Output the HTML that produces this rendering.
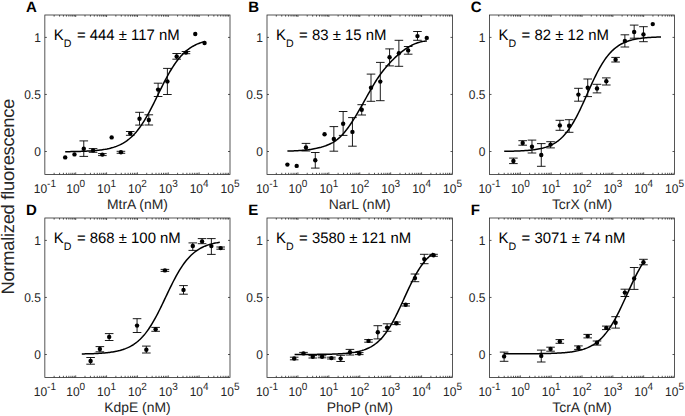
<!DOCTYPE html>
<html><head><meta charset="utf-8"><style>
html,body{margin:0;padding:0;background:#fff;width:685px;height:416px;overflow:hidden}
svg{display:block}
text{font-family:"Liberation Sans",sans-serif;fill:#000;text-rendering:geometricPrecision}
.tl{font-size:12px;fill:#262626}
.sup{font-size:10px}
.xl{font-size:13.9px;fill:#262626}
.pl{font-size:15px;font-weight:bold}
.kd{font-size:14.9px}
.sub{font-size:10.6px}
.yl{font-size:18px;fill:#262626}
</style></head><body>
<svg width="685" height="416" viewBox="0 0 685 416">
<rect width="685" height="416" fill="#fff"/>
<path d="M54.14 174.4v-1.6M54.14 15v1.6M59.57 174.4v-1.6M59.57 15v1.6M63.43 174.4v-1.6M63.43 15v1.6M66.42 174.4v-1.6M66.42 15v1.6M68.86 174.4v-1.6M68.86 15v1.6M70.93 174.4v-1.6M70.93 15v1.6M72.72 174.4v-1.6M72.72 15v1.6M74.3 174.4v-1.6M74.3 15v1.6M75.71 174.4v-2M75.71 15v2M85 174.4v-1.6M85 15v1.6M90.43 174.4v-1.6M90.43 15v1.6M94.29 174.4v-1.6M94.29 15v1.6M97.28 174.4v-1.6M97.28 15v1.6M99.72 174.4v-1.6M99.72 15v1.6M101.79 174.4v-1.6M101.79 15v1.6M103.58 174.4v-1.6M103.58 15v1.6M105.15 174.4v-1.6M105.15 15v1.6M106.57 174.4v-2M106.57 15v2M115.86 174.4v-1.6M115.86 15v1.6M121.29 174.4v-1.6M121.29 15v1.6M125.15 174.4v-1.6M125.15 15v1.6M128.14 174.4v-1.6M128.14 15v1.6M130.58 174.4v-1.6M130.58 15v1.6M132.64 174.4v-1.6M132.64 15v1.6M134.43 174.4v-1.6M134.43 15v1.6M136.01 174.4v-1.6M136.01 15v1.6M137.43 174.4v-2M137.43 15v2M146.71 174.4v-1.6M146.71 15v1.6M152.15 174.4v-1.6M152.15 15v1.6M156 174.4v-1.6M156 15v1.6M158.99 174.4v-1.6M158.99 15v1.6M161.44 174.4v-1.6M161.44 15v1.6M163.5 174.4v-1.6M163.5 15v1.6M165.29 174.4v-1.6M165.29 15v1.6M166.87 174.4v-1.6M166.87 15v1.6M168.28 174.4v-2M168.28 15v2M177.57 174.4v-1.6M177.57 15v1.6M183.01 174.4v-1.6M183.01 15v1.6M186.86 174.4v-1.6M186.86 15v1.6M189.85 174.4v-1.6M189.85 15v1.6M192.3 174.4v-1.6M192.3 15v1.6M194.36 174.4v-1.6M194.36 15v1.6M196.15 174.4v-1.6M196.15 15v1.6M197.73 174.4v-1.6M197.73 15v1.6M199.14 174.4v-2M199.14 15v2M208.43 174.4v-1.6M208.43 15v1.6M213.86 174.4v-1.6M213.86 15v1.6M217.72 174.4v-1.6M217.72 15v1.6M220.71 174.4v-1.6M220.71 15v1.6M223.15 174.4v-1.6M223.15 15v1.6M225.22 174.4v-1.6M225.22 15v1.6M227.01 174.4v-1.6M227.01 15v1.6M228.59 174.4v-1.6M228.59 15v1.6M44.85 151.5h2M230 151.5h-2M44.85 94.45h2M230 94.45h-2M44.85 37.4h2M230 37.4h-2" stroke="#262626" stroke-width="0.78" fill="none"/>
<rect x="44.85" y="15" width="185.15" height="159.4" fill="none" stroke="#262626" stroke-width="0.78"/>
<text transform="translate(44.85 193.15) scale(1 1.05)" text-anchor="middle" class="tl">10<tspan class="sup" dy="-5.4">-1</tspan></text>
<text transform="translate(75.71 193.15) scale(1 1.05)" text-anchor="middle" class="tl">10<tspan class="sup" dy="-5.4">0</tspan></text>
<text transform="translate(106.57 193.15) scale(1 1.05)" text-anchor="middle" class="tl">10<tspan class="sup" dy="-5.4">1</tspan></text>
<text transform="translate(137.43 193.15) scale(1 1.05)" text-anchor="middle" class="tl">10<tspan class="sup" dy="-5.4">2</tspan></text>
<text transform="translate(168.28 193.15) scale(1 1.05)" text-anchor="middle" class="tl">10<tspan class="sup" dy="-5.4">3</tspan></text>
<text transform="translate(199.14 193.15) scale(1 1.05)" text-anchor="middle" class="tl">10<tspan class="sup" dy="-5.4">4</tspan></text>
<text transform="translate(230 193.15) scale(1 1.05)" text-anchor="middle" class="tl">10<tspan class="sup" dy="-5.4">5</tspan></text>
<text transform="translate(40.85 155.9) scale(1 1.05)" text-anchor="end" class="tl">0</text>
<text transform="translate(40.85 98.85) scale(1 1.05)" text-anchor="end" class="tl">0.5</text>
<text transform="translate(40.85 41.8) scale(1 1.05)" text-anchor="end" class="tl">1</text>
<text transform="translate(137.43 208.5) scale(1 1.0)" text-anchor="middle" class="xl">MtrA (nM)</text>
<text transform="translate(26.1 11.5) scale(1 1.0)" class="pl">A</text>
<text transform="translate(53.85 39.5) scale(1 1.02)" class="kd">K</text>
<text transform="translate(63.85 46.5) scale(1 1.02)" class="sub">D</text>
<text transform="translate(76.95 39.5) scale(1 1.02)" class="kd">= 444 ± 117 nM</text>
<polyline points="65.2,151.69 66.36,151.68 67.52,151.66 68.69,151.65 69.85,151.63 71.01,151.62 72.17,151.6 73.33,151.57 74.49,151.55 75.66,151.53 76.82,151.5 77.98,151.47 79.14,151.44 80.3,151.4 81.46,151.37 82.62,151.33 83.79,151.28 84.95,151.23 86.11,151.18 87.27,151.12 88.43,151.06 89.59,150.99 90.76,150.92 91.92,150.84 93.08,150.76 94.24,150.66 95.4,150.56 96.56,150.45 97.73,150.34 98.89,150.21 100.05,150.07 101.21,149.92 102.37,149.75 103.53,149.57 104.7,149.38 105.86,149.17 107.02,148.95 108.18,148.7 109.34,148.44 110.5,148.15 111.67,147.84 112.83,147.51 113.99,147.15 115.15,146.76 116.31,146.34 117.47,145.89 118.64,145.4 119.8,144.88 120.96,144.31 122.12,143.71 123.28,143.06 124.44,142.36 125.61,141.61 126.77,140.8 127.93,139.95 129.09,139.03 130.25,138.05 131.41,137.01 132.58,135.9 133.74,134.73 134.9,133.48 136.06,132.16 137.22,130.77 138.38,129.3 139.55,127.76 140.71,126.14 141.87,124.44 143.03,122.67 144.19,120.83 145.35,118.91 146.52,116.93 147.68,114.88 148.84,112.77 150,110.6 151.16,108.38 152.32,106.12 153.49,103.82 154.65,101.49 155.81,99.13 156.97,96.77 158.13,94.39 159.29,92.02 160.46,89.65 161.62,87.3 162.78,84.98 163.94,82.69 165.1,80.44 166.26,78.24 167.43,76.09 168.59,73.99 169.75,71.96 170.91,70 172.07,68.1 173.23,66.28 174.4,64.53 175.56,62.85 176.72,61.26 177.88,59.73 179.04,58.29 180.2,56.92 181.37,55.62 182.53,54.39 183.69,53.24 184.85,52.15 186.01,51.13 187.17,50.17 188.34,49.27 189.5,48.43 190.66,47.64 191.82,46.9 192.98,46.22 194.14,45.58 195.31,44.99 196.47,44.43 197.63,43.92 198.79,43.44 199.95,43 201.12,42.59 202.28,42.21 203.44,41.86 204.6,41.53" fill="none" stroke="#000" stroke-width="1.5" stroke-linejoin="round"/>
<path d="M83.78 140.9V156.4M79.48 140.9h8.6M79.48 156.4h8.6M93.07 148.6V152.3M88.77 148.6h8.6M88.77 152.3h8.6M102.36 153.6V155.6M98.06 153.6h8.6M98.06 155.6h8.6M120.94 151.3V153.3M116.64 151.3h8.6M116.64 153.3h8.6M130.23 131.5V135.3M125.93 131.5h8.6M125.93 135.3h8.6M139.52 112.3V125.1M135.22 112.3h8.6M135.22 125.1h8.6M148.81 114.8V125M144.51 114.8h8.6M144.51 125h8.6M158.1 83.2V96.5M153.8 83.2h8.6M153.8 96.5h8.6M167.39 68.4V94.5M163.09 68.4h8.6M163.09 94.5h8.6M176.68 53.5V59.2M172.38 53.5h8.6M172.38 59.2h8.6M185.97 51.5V53.7M181.67 51.5h8.6M181.67 53.7h8.6" stroke="#000" stroke-width="0.9" fill="none"/>
<g fill="#000"><circle cx="65.2" cy="157.4" r="2.2"/><circle cx="74.49" cy="154.4" r="2.2"/><circle cx="83.78" cy="148.7" r="2.2"/><circle cx="93.07" cy="150.4" r="2.2"/><circle cx="102.36" cy="154.6" r="2.2"/><circle cx="111.65" cy="137.4" r="2.2"/><circle cx="120.94" cy="152.3" r="2.2"/><circle cx="130.23" cy="133.2" r="2.2"/><circle cx="139.52" cy="118.7" r="2.2"/><circle cx="148.81" cy="120" r="2.2"/><circle cx="158.1" cy="89.6" r="2.2"/><circle cx="167.39" cy="81.4" r="2.2"/><circle cx="176.68" cy="56.5" r="2.2"/><circle cx="185.97" cy="52.6" r="2.2"/><circle cx="195.26" cy="34" r="2.2"/><circle cx="204.55" cy="43" r="2.2"/></g>
<path d="M276.31 174.4v-1.6M276.31 15v1.6M281.75 174.4v-1.6M281.75 15v1.6M285.61 174.4v-1.6M285.61 15v1.6M288.61 174.4v-1.6M288.61 15v1.6M291.06 174.4v-1.6M291.06 15v1.6M293.13 174.4v-1.6M293.13 15v1.6M294.92 174.4v-1.6M294.92 15v1.6M296.5 174.4v-1.6M296.5 15v1.6M297.92 174.4v-2M297.92 15v2M307.22 174.4v-1.6M307.22 15v1.6M312.67 174.4v-1.6M312.67 15v1.6M316.53 174.4v-1.6M316.53 15v1.6M319.53 174.4v-1.6M319.53 15v1.6M321.97 174.4v-1.6M321.97 15v1.6M324.04 174.4v-1.6M324.04 15v1.6M325.84 174.4v-1.6M325.84 15v1.6M327.42 174.4v-1.6M327.42 15v1.6M328.83 174.4v-2M328.83 15v2M338.14 174.4v-1.6M338.14 15v1.6M343.58 174.4v-1.6M343.58 15v1.6M347.45 174.4v-1.6M347.45 15v1.6M350.44 174.4v-1.6M350.44 15v1.6M352.89 174.4v-1.6M352.89 15v1.6M354.96 174.4v-1.6M354.96 15v1.6M356.75 174.4v-1.6M356.75 15v1.6M358.34 174.4v-1.6M358.34 15v1.6M359.75 174.4v-2M359.75 15v2M369.06 174.4v-1.6M369.06 15v1.6M374.5 174.4v-1.6M374.5 15v1.6M378.36 174.4v-1.6M378.36 15v1.6M381.36 174.4v-1.6M381.36 15v1.6M383.81 174.4v-1.6M383.81 15v1.6M385.88 174.4v-1.6M385.88 15v1.6M387.67 174.4v-1.6M387.67 15v1.6M389.25 174.4v-1.6M389.25 15v1.6M390.67 174.4v-2M390.67 15v2M399.97 174.4v-1.6M399.97 15v1.6M405.42 174.4v-1.6M405.42 15v1.6M409.28 174.4v-1.6M409.28 15v1.6M412.28 174.4v-1.6M412.28 15v1.6M414.72 174.4v-1.6M414.72 15v1.6M416.79 174.4v-1.6M416.79 15v1.6M418.59 174.4v-1.6M418.59 15v1.6M420.17 174.4v-1.6M420.17 15v1.6M421.58 174.4v-2M421.58 15v2M430.89 174.4v-1.6M430.89 15v1.6M436.33 174.4v-1.6M436.33 15v1.6M440.2 174.4v-1.6M440.2 15v1.6M443.19 174.4v-1.6M443.19 15v1.6M445.64 174.4v-1.6M445.64 15v1.6M447.71 174.4v-1.6M447.71 15v1.6M449.5 174.4v-1.6M449.5 15v1.6M451.09 174.4v-1.6M451.09 15v1.6M267 151.5h2M452.5 151.5h-2M267 94.45h2M452.5 94.45h-2M267 37.4h2M452.5 37.4h-2" stroke="#262626" stroke-width="0.78" fill="none"/>
<rect x="267" y="15" width="185.5" height="159.4" fill="none" stroke="#262626" stroke-width="0.78"/>
<text transform="translate(267 193.15) scale(1 1.05)" text-anchor="middle" class="tl">10<tspan class="sup" dy="-5.4">-1</tspan></text>
<text transform="translate(297.92 193.15) scale(1 1.05)" text-anchor="middle" class="tl">10<tspan class="sup" dy="-5.4">0</tspan></text>
<text transform="translate(328.83 193.15) scale(1 1.05)" text-anchor="middle" class="tl">10<tspan class="sup" dy="-5.4">1</tspan></text>
<text transform="translate(359.75 193.15) scale(1 1.05)" text-anchor="middle" class="tl">10<tspan class="sup" dy="-5.4">2</tspan></text>
<text transform="translate(390.67 193.15) scale(1 1.05)" text-anchor="middle" class="tl">10<tspan class="sup" dy="-5.4">3</tspan></text>
<text transform="translate(421.58 193.15) scale(1 1.05)" text-anchor="middle" class="tl">10<tspan class="sup" dy="-5.4">4</tspan></text>
<text transform="translate(452.5 193.15) scale(1 1.05)" text-anchor="middle" class="tl">10<tspan class="sup" dy="-5.4">5</tspan></text>
<text transform="translate(263 155.9) scale(1 1.05)" text-anchor="end" class="tl">0</text>
<text transform="translate(263 98.85) scale(1 1.05)" text-anchor="end" class="tl">0.5</text>
<text transform="translate(263 41.8) scale(1 1.05)" text-anchor="end" class="tl">1</text>
<text transform="translate(359.75 208.5) scale(1 1.0)" text-anchor="middle" class="xl">NarL (nM)</text>
<text transform="translate(248.25 11.5) scale(1 1.0)" class="pl">B</text>
<text transform="translate(276 39.5) scale(1 1.02)" class="kd">K</text>
<text transform="translate(286 46.5) scale(1 1.02)" class="sub">D</text>
<text transform="translate(299.1 39.5) scale(1 1.02)" class="kd">= 83 ± 15 nM</text>
<polyline points="287.4,151.03 288.56,151.01 289.72,150.99 290.89,150.96 292.05,150.93 293.21,150.89 294.38,150.85 295.54,150.8 296.7,150.75 297.86,150.69 299.02,150.62 300.19,150.55 301.35,150.47 302.51,150.37 303.67,150.27 304.84,150.16 306,150.04 307.16,149.9 308.32,149.76 309.49,149.6 310.65,149.42 311.81,149.24 312.97,149.04 314.14,148.82 315.3,148.59 316.46,148.35 317.62,148.08 318.79,147.8 319.95,147.5 321.11,147.19 322.27,146.85 323.44,146.5 324.6,146.12 325.76,145.72 326.92,145.28 328.09,144.82 329.25,144.31 330.41,143.77 331.57,143.18 332.74,142.54 333.9,141.84 335.06,141.08 336.22,140.27 337.39,139.38 338.55,138.43 339.71,137.39 340.88,136.28 342.04,135.09 343.2,133.82 344.36,132.47 345.52,131.05 346.69,129.56 347.85,128.01 349.01,126.4 350.17,124.72 351.34,123 352.5,121.22 353.66,119.39 354.82,117.53 355.99,115.62 357.15,113.67 358.31,111.69 359.47,109.69 360.64,107.65 361.8,105.6 362.96,103.53 364.12,101.44 365.29,99.35 366.45,97.25 367.61,95.16 368.77,93.09 369.94,91.03 371.1,89 372.26,87 373.42,85.04 374.59,83.13 375.75,81.27 376.91,79.46 378.07,77.72 379.24,76.03 380.4,74.4 381.56,72.81 382.72,71.28 383.89,69.8 385.05,68.36 386.21,66.96 387.38,65.61 388.54,64.3 389.7,63.02 390.86,61.79 392.02,60.58 393.19,59.41 394.35,58.27 395.51,57.16 396.67,56.08 397.84,55.02 399,54.01 400.16,53.02 401.32,52.07 402.49,51.16 403.65,50.29 404.81,49.45 405.97,48.65 407.14,47.89 408.3,47.17 409.46,46.49 410.62,45.85 411.79,45.25 412.95,44.68 414.11,44.16 415.27,43.67 416.44,43.22 417.6,42.82 418.76,42.45 419.92,42.12 421.09,41.83 422.25,41.58 423.41,41.37 424.57,41.2 425.74,41.08 426.9,40.99" fill="none" stroke="#000" stroke-width="1.5" stroke-linejoin="round"/>
<path d="M305.98 143.4V151M301.68 143.4h8.6M301.68 151h8.6M315.27 152.5V168.1M310.97 152.5h8.6M310.97 168.1h8.6M333.85 126.6V151.2M329.55 126.6h8.6M329.55 151.2h8.6M343.14 111.5V135.4M338.84 111.5h8.6M338.84 135.4h8.6M352.43 117.6V146.2M348.13 117.6h8.6M348.13 146.2h8.6M361.72 104.7V115M357.42 104.7h8.6M357.42 115h8.6M371.01 74.1V101.3M366.71 74.1h8.6M366.71 101.3h8.6M380.3 62.4V100.7M376 62.4h8.6M376 100.7h8.6M389.59 48.9V65.9M385.29 48.9h8.6M385.29 65.9h8.6M398.88 40.3V66.3M394.58 40.3h8.6M394.58 66.3h8.6M408.17 46.5V54.2M403.87 46.5h8.6M403.87 54.2h8.6M417.46 31.5V40.3M413.16 31.5h8.6M413.16 40.3h8.6" stroke="#000" stroke-width="0.9" fill="none"/>
<g fill="#000"><circle cx="287.4" cy="164.6" r="2.2"/><circle cx="296.69" cy="165.9" r="2.2"/><circle cx="305.98" cy="147.5" r="2.2"/><circle cx="315.27" cy="160.2" r="2.2"/><circle cx="324.56" cy="134.3" r="2.2"/><circle cx="333.85" cy="139" r="2.2"/><circle cx="343.14" cy="123.7" r="2.2"/><circle cx="352.43" cy="131.9" r="2.2"/><circle cx="361.72" cy="109.8" r="2.2"/><circle cx="371.01" cy="87.8" r="2.2"/><circle cx="380.3" cy="81.6" r="2.2"/><circle cx="389.59" cy="57.3" r="2.2"/><circle cx="398.88" cy="53.2" r="2.2"/><circle cx="408.17" cy="50.4" r="2.2"/><circle cx="417.46" cy="36.1" r="2.2"/><circle cx="426.75" cy="37.9" r="2.2"/></g>
<path d="M498.78 174.4v-1.6M498.78 15v1.6M504.21 174.4v-1.6M504.21 15v1.6M508.06 174.4v-1.6M508.06 15v1.6M511.05 174.4v-1.6M511.05 15v1.6M513.49 174.4v-1.6M513.49 15v1.6M515.56 174.4v-1.6M515.56 15v1.6M517.35 174.4v-1.6M517.35 15v1.6M518.92 174.4v-1.6M518.92 15v1.6M520.33 174.4v-2M520.33 15v2M529.62 174.4v-1.6M529.62 15v1.6M535.04 174.4v-1.6M535.04 15v1.6M538.9 174.4v-1.6M538.9 15v1.6M541.88 174.4v-1.6M541.88 15v1.6M544.33 174.4v-1.6M544.33 15v1.6M546.39 174.4v-1.6M546.39 15v1.6M548.18 174.4v-1.6M548.18 15v1.6M549.76 174.4v-1.6M549.76 15v1.6M551.17 174.4v-2M551.17 15v2M560.45 174.4v-1.6M560.45 15v1.6M565.88 174.4v-1.6M565.88 15v1.6M569.73 174.4v-1.6M569.73 15v1.6M572.72 174.4v-1.6M572.72 15v1.6M575.16 174.4v-1.6M575.16 15v1.6M577.22 174.4v-1.6M577.22 15v1.6M579.01 174.4v-1.6M579.01 15v1.6M580.59 174.4v-1.6M580.59 15v1.6M582 174.4v-2M582 15v2M591.28 174.4v-1.6M591.28 15v1.6M596.71 174.4v-1.6M596.71 15v1.6M600.56 174.4v-1.6M600.56 15v1.6M603.55 174.4v-1.6M603.55 15v1.6M605.99 174.4v-1.6M605.99 15v1.6M608.06 174.4v-1.6M608.06 15v1.6M609.85 174.4v-1.6M609.85 15v1.6M611.42 174.4v-1.6M611.42 15v1.6M612.83 174.4v-2M612.83 15v2M622.12 174.4v-1.6M622.12 15v1.6M627.54 174.4v-1.6M627.54 15v1.6M631.4 174.4v-1.6M631.4 15v1.6M634.38 174.4v-1.6M634.38 15v1.6M636.83 174.4v-1.6M636.83 15v1.6M638.89 174.4v-1.6M638.89 15v1.6M640.68 174.4v-1.6M640.68 15v1.6M642.26 174.4v-1.6M642.26 15v1.6M643.67 174.4v-2M643.67 15v2M652.95 174.4v-1.6M652.95 15v1.6M658.38 174.4v-1.6M658.38 15v1.6M662.23 174.4v-1.6M662.23 15v1.6M665.22 174.4v-1.6M665.22 15v1.6M667.66 174.4v-1.6M667.66 15v1.6M669.72 174.4v-1.6M669.72 15v1.6M671.51 174.4v-1.6M671.51 15v1.6M673.09 174.4v-1.6M673.09 15v1.6M489.5 151.5h2M674.5 151.5h-2M489.5 94.45h2M674.5 94.45h-2M489.5 37.4h2M674.5 37.4h-2" stroke="#262626" stroke-width="0.78" fill="none"/>
<rect x="489.5" y="15" width="185" height="159.4" fill="none" stroke="#262626" stroke-width="0.78"/>
<text transform="translate(489.5 193.15) scale(1 1.05)" text-anchor="middle" class="tl">10<tspan class="sup" dy="-5.4">-1</tspan></text>
<text transform="translate(520.33 193.15) scale(1 1.05)" text-anchor="middle" class="tl">10<tspan class="sup" dy="-5.4">0</tspan></text>
<text transform="translate(551.17 193.15) scale(1 1.05)" text-anchor="middle" class="tl">10<tspan class="sup" dy="-5.4">1</tspan></text>
<text transform="translate(582 193.15) scale(1 1.05)" text-anchor="middle" class="tl">10<tspan class="sup" dy="-5.4">2</tspan></text>
<text transform="translate(612.83 193.15) scale(1 1.05)" text-anchor="middle" class="tl">10<tspan class="sup" dy="-5.4">3</tspan></text>
<text transform="translate(643.67 193.15) scale(1 1.05)" text-anchor="middle" class="tl">10<tspan class="sup" dy="-5.4">4</tspan></text>
<text transform="translate(674.5 193.15) scale(1 1.05)" text-anchor="middle" class="tl">10<tspan class="sup" dy="-5.4">5</tspan></text>
<text transform="translate(485.5 155.9) scale(1 1.05)" text-anchor="end" class="tl">0</text>
<text transform="translate(485.5 98.85) scale(1 1.05)" text-anchor="end" class="tl">0.5</text>
<text transform="translate(485.5 41.8) scale(1 1.05)" text-anchor="end" class="tl">1</text>
<text transform="translate(582 208.5) scale(1 1.0)" text-anchor="middle" class="xl">TcrX (nM)</text>
<text transform="translate(470.75 11.5) scale(1 1.0)" class="pl">C</text>
<text transform="translate(498.5 39.5) scale(1 1.02)" class="kd">K</text>
<text transform="translate(508.5 46.5) scale(1 1.02)" class="sub">D</text>
<text transform="translate(521.6 39.5) scale(1 1.02)" class="kd">= 82 ± 12 nM</text>
<polyline points="504.2,151.33 505.51,151.31 506.81,151.29 508.12,151.26 509.43,151.24 510.73,151.21 512.04,151.18 513.35,151.15 514.65,151.11 515.96,151.07 517.27,151.02 518.57,150.97 519.88,150.91 521.19,150.85 522.49,150.78 523.8,150.7 525.11,150.62 526.41,150.52 527.72,150.42 529.03,150.31 530.33,150.18 531.64,150.04 532.95,149.88 534.25,149.71 535.56,149.52 536.87,149.31 538.17,149.08 539.48,148.83 540.79,148.55 542.09,148.24 543.4,147.9 544.71,147.52 546.01,147.11 547.32,146.65 548.63,146.16 549.93,145.61 551.24,145.01 552.55,144.35 553.85,143.64 555.16,142.85 556.47,142 557.77,141.07 559.08,140.05 560.39,138.95 561.69,137.76 563,136.47 564.31,135.08 565.61,133.59 566.92,131.99 568.23,130.27 569.53,128.44 570.84,126.5 572.15,124.43 573.45,122.26 574.76,119.97 576.07,117.57 577.37,115.08 578.68,112.48 579.99,109.8 581.29,107.04 582.6,104.22 583.91,101.35 585.21,98.44 586.52,95.51 587.83,92.56 589.13,89.63 590.44,86.72 591.75,83.85 593.05,81.03 594.36,78.27 595.67,75.59 596.97,73 598.28,70.5 599.59,68.11 600.89,65.82 602.2,63.64 603.51,61.58 604.81,59.64 606.12,57.81 607.43,56.1 608.73,54.5 610.04,53 611.35,51.62 612.65,50.33 613.96,49.14 615.27,48.04 616.57,47.03 617.88,46.1 619.19,45.24 620.49,44.46 621.8,43.74 623.11,43.09 624.41,42.49 625.72,41.94 627.03,41.44 628.33,40.99 629.64,40.58 630.95,40.2 632.25,39.86 633.56,39.56 634.87,39.27 636.17,39.02 637.48,38.79 638.79,38.58 640.09,38.39 641.4,38.22 642.71,38.07 644.01,37.92 645.32,37.8 646.63,37.68 647.93,37.58 649.24,37.48 650.55,37.4 651.85,37.32 653.16,37.25 654.47,37.19 655.77,37.13 657.08,37.08 658.39,37.04 659.69,36.99 661,36.96" fill="none" stroke="#000" stroke-width="1.5" stroke-linejoin="round"/>
<path d="M513.4 158.1V163.6M509.1 158.1h8.6M509.1 163.6h8.6M522.69 140.7V145.2M518.39 140.7h8.6M518.39 145.2h8.6M531.98 140.1V153M527.68 140.1h8.6M527.68 153h8.6M541.27 143.6V166.3M536.97 143.6h8.6M536.97 166.3h8.6M550.56 141.7V147.9M546.26 141.7h8.6M546.26 147.9h8.6M559.85 120.3V130.3M555.55 120.3h8.6M555.55 130.3h8.6M569.14 119.7V132.3M564.84 119.7h8.6M564.84 132.3h8.6M578.43 88.3V101.2M574.13 88.3h8.6M574.13 101.2h8.6M587.72 79V96.6M583.42 79h8.6M583.42 96.6h8.6M597.01 84.3V92.9M592.71 84.3h8.6M592.71 92.9h8.6M606.3 77.9V85M602 77.9h8.6M602 85h8.6M615.59 57.4V62M611.29 57.4h8.6M611.29 62h8.6M624.88 34.8V47M620.58 34.8h8.6M620.58 47h8.6M634.17 25.1V38.2M629.87 25.1h8.6M629.87 38.2h8.6M643.46 26.7V41.7M639.16 26.7h8.6M639.16 41.7h8.6" stroke="#000" stroke-width="0.9" fill="none"/>
<g fill="#000"><circle cx="513.4" cy="161" r="2.2"/><circle cx="522.69" cy="143" r="2.2"/><circle cx="531.98" cy="146.8" r="2.2"/><circle cx="541.27" cy="155" r="2.2"/><circle cx="550.56" cy="144.6" r="2.2"/><circle cx="559.85" cy="125.4" r="2.2"/><circle cx="569.14" cy="125.8" r="2.2"/><circle cx="578.43" cy="94.6" r="2.2"/><circle cx="587.72" cy="87.8" r="2.2"/><circle cx="597.01" cy="88.5" r="2.2"/><circle cx="606.3" cy="81.3" r="2.2"/><circle cx="615.59" cy="59.7" r="2.2"/><circle cx="624.88" cy="41" r="2.2"/><circle cx="634.17" cy="32" r="2.2"/><circle cx="643.46" cy="34.4" r="2.2"/><circle cx="652.75" cy="24.1" r="2.2"/></g>
<path d="M54.14 377.4v-1.6M54.14 218v1.6M59.57 377.4v-1.6M59.57 218v1.6M63.43 377.4v-1.6M63.43 218v1.6M66.42 377.4v-1.6M66.42 218v1.6M68.86 377.4v-1.6M68.86 218v1.6M70.93 377.4v-1.6M70.93 218v1.6M72.72 377.4v-1.6M72.72 218v1.6M74.3 377.4v-1.6M74.3 218v1.6M75.71 377.4v-2M75.71 218v2M85 377.4v-1.6M85 218v1.6M90.43 377.4v-1.6M90.43 218v1.6M94.29 377.4v-1.6M94.29 218v1.6M97.28 377.4v-1.6M97.28 218v1.6M99.72 377.4v-1.6M99.72 218v1.6M101.79 377.4v-1.6M101.79 218v1.6M103.58 377.4v-1.6M103.58 218v1.6M105.15 377.4v-1.6M105.15 218v1.6M106.57 377.4v-2M106.57 218v2M115.86 377.4v-1.6M115.86 218v1.6M121.29 377.4v-1.6M121.29 218v1.6M125.15 377.4v-1.6M125.15 218v1.6M128.14 377.4v-1.6M128.14 218v1.6M130.58 377.4v-1.6M130.58 218v1.6M132.64 377.4v-1.6M132.64 218v1.6M134.43 377.4v-1.6M134.43 218v1.6M136.01 377.4v-1.6M136.01 218v1.6M137.43 377.4v-2M137.43 218v2M146.71 377.4v-1.6M146.71 218v1.6M152.15 377.4v-1.6M152.15 218v1.6M156 377.4v-1.6M156 218v1.6M158.99 377.4v-1.6M158.99 218v1.6M161.44 377.4v-1.6M161.44 218v1.6M163.5 377.4v-1.6M163.5 218v1.6M165.29 377.4v-1.6M165.29 218v1.6M166.87 377.4v-1.6M166.87 218v1.6M168.28 377.4v-2M168.28 218v2M177.57 377.4v-1.6M177.57 218v1.6M183.01 377.4v-1.6M183.01 218v1.6M186.86 377.4v-1.6M186.86 218v1.6M189.85 377.4v-1.6M189.85 218v1.6M192.3 377.4v-1.6M192.3 218v1.6M194.36 377.4v-1.6M194.36 218v1.6M196.15 377.4v-1.6M196.15 218v1.6M197.73 377.4v-1.6M197.73 218v1.6M199.14 377.4v-2M199.14 218v2M208.43 377.4v-1.6M208.43 218v1.6M213.86 377.4v-1.6M213.86 218v1.6M217.72 377.4v-1.6M217.72 218v1.6M220.71 377.4v-1.6M220.71 218v1.6M223.15 377.4v-1.6M223.15 218v1.6M225.22 377.4v-1.6M225.22 218v1.6M227.01 377.4v-1.6M227.01 218v1.6M228.59 377.4v-1.6M228.59 218v1.6M44.85 354.5h2M230 354.5h-2M44.85 297.45h2M230 297.45h-2M44.85 240.4h2M230 240.4h-2" stroke="#262626" stroke-width="0.78" fill="none"/>
<rect x="44.85" y="218" width="185.15" height="159.4" fill="none" stroke="#262626" stroke-width="0.78"/>
<text transform="translate(44.85 396.15) scale(1 1.05)" text-anchor="middle" class="tl">10<tspan class="sup" dy="-5.4">-1</tspan></text>
<text transform="translate(75.71 396.15) scale(1 1.05)" text-anchor="middle" class="tl">10<tspan class="sup" dy="-5.4">0</tspan></text>
<text transform="translate(106.57 396.15) scale(1 1.05)" text-anchor="middle" class="tl">10<tspan class="sup" dy="-5.4">1</tspan></text>
<text transform="translate(137.43 396.15) scale(1 1.05)" text-anchor="middle" class="tl">10<tspan class="sup" dy="-5.4">2</tspan></text>
<text transform="translate(168.28 396.15) scale(1 1.05)" text-anchor="middle" class="tl">10<tspan class="sup" dy="-5.4">3</tspan></text>
<text transform="translate(199.14 396.15) scale(1 1.05)" text-anchor="middle" class="tl">10<tspan class="sup" dy="-5.4">4</tspan></text>
<text transform="translate(230 396.15) scale(1 1.05)" text-anchor="middle" class="tl">10<tspan class="sup" dy="-5.4">5</tspan></text>
<text transform="translate(40.85 358.9) scale(1 1.05)" text-anchor="end" class="tl">0</text>
<text transform="translate(40.85 301.85) scale(1 1.05)" text-anchor="end" class="tl">0.5</text>
<text transform="translate(40.85 244.8) scale(1 1.05)" text-anchor="end" class="tl">1</text>
<text transform="translate(137.43 411.5) scale(1 1.0)" text-anchor="middle" class="xl">KdpE (nM)</text>
<text transform="translate(26.1 214.5) scale(1 1.0)" class="pl">D</text>
<text transform="translate(53.85 242.5) scale(1 1.02)" class="kd">K</text>
<text transform="translate(63.85 249.5) scale(1 1.02)" class="sub">D</text>
<text transform="translate(76.95 242.5) scale(1 1.02)" class="kd">= 868 ± 100 nM</text>
<polyline points="81.8,353.93 82.95,353.91 84.1,353.89 85.25,353.87 86.4,353.84 87.55,353.81 88.7,353.78 89.85,353.75 91,353.71 92.15,353.67 93.3,353.63 94.45,353.58 95.6,353.53 96.75,353.48 97.9,353.42 99.05,353.35 100.2,353.28 101.35,353.2 102.5,353.12 103.65,353.02 104.8,352.92 105.95,352.82 107.1,352.7 108.25,352.57 109.4,352.43 110.55,352.28 111.7,352.11 112.85,351.94 114,351.74 115.15,351.53 116.3,351.3 117.45,351.06 118.6,350.79 119.75,350.5 120.9,350.18 122.05,349.84 123.2,349.47 124.35,349.08 125.5,348.65 126.65,348.18 127.8,347.68 128.95,347.14 130.1,346.55 131.25,345.93 132.4,345.25 133.55,344.52 134.7,343.74 135.85,342.91 137,342.01 138.15,341.06 139.3,340.03 140.45,338.94 141.6,337.78 142.75,336.55 143.9,335.24 145.05,333.86 146.2,332.4 147.35,330.85 148.5,329.23 149.65,327.53 150.8,325.75 151.95,323.89 153.1,321.96 154.25,319.95 155.4,317.88 156.55,315.74 157.7,313.54 158.85,311.28 160,308.98 161.15,306.63 162.3,304.26 163.45,301.85 164.6,299.43 165.75,297 166.9,294.58 168.05,292.16 169.2,289.76 170.35,287.39 171.5,285.05 172.65,282.76 173.8,280.51 174.95,278.32 176.1,276.19 177.25,274.13 178.4,272.13 179.55,270.21 180.7,268.37 181.85,266.6 183,264.92 184.15,263.31 185.3,261.78 186.45,260.33 187.6,258.96 188.75,257.67 189.9,256.45 191.05,255.3 192.2,254.22 193.35,253.21 194.5,252.27 195.65,251.38 196.8,250.56 197.95,249.79 199.1,249.07 200.25,248.4 201.4,247.78 202.55,247.21 203.7,246.67 204.85,246.18 206,245.72 207.15,245.3 208.3,244.9 209.45,244.54 210.6,244.2 211.75,243.89 212.9,243.61 214.05,243.34 215.2,243.1 216.35,242.87 217.5,242.67 218.65,242.48 219.8,242.3" fill="none" stroke="#000" stroke-width="1.5" stroke-linejoin="round"/>
<path d="M90.6 357.5V364.2M86.3 357.5h8.6M86.3 364.2h8.6M99.89 346.6V351.8M95.59 346.6h8.6M95.59 351.8h8.6M109.18 333.6V340.5M104.88 333.6h8.6M104.88 340.5h8.6M137.05 318.7V332.5M132.75 318.7h8.6M132.75 332.5h8.6M146.34 346.1V353M142.04 346.1h8.6M142.04 353h8.6M155.63 327.4V331.3M151.33 327.4h8.6M151.33 331.3h8.6M164.92 269.4V271.4M160.62 269.4h8.6M160.62 271.4h8.6M183.5 285.6V294.2M179.2 285.6h8.6M179.2 294.2h8.6M192.79 242.9V250.4M188.49 242.9h8.6M188.49 250.4h8.6M202.08 238.6V243.7M197.78 238.6h8.6M197.78 243.7h8.6M211.37 238.6V254.4M207.07 238.6h8.6M207.07 254.4h8.6M220.66 247V249.2M216.36 247h8.6M216.36 249.2h8.6" stroke="#000" stroke-width="0.9" fill="none"/>
<g fill="#000"><circle cx="90.6" cy="361" r="2.2"/><circle cx="99.89" cy="349" r="2.2"/><circle cx="109.18" cy="336.9" r="2.2"/><circle cx="137.05" cy="325.6" r="2.2"/><circle cx="146.34" cy="349.7" r="2.2"/><circle cx="155.63" cy="329.2" r="2.2"/><circle cx="164.92" cy="270.4" r="2.2"/><circle cx="183.5" cy="289.9" r="2.2"/><circle cx="192.79" cy="246" r="2.2"/><circle cx="202.08" cy="241.4" r="2.2"/><circle cx="211.37" cy="246.1" r="2.2"/><circle cx="220.66" cy="248.1" r="2.2"/></g>
<path d="M276.31 377.4v-1.6M276.31 218v1.6M281.75 377.4v-1.6M281.75 218v1.6M285.61 377.4v-1.6M285.61 218v1.6M288.61 377.4v-1.6M288.61 218v1.6M291.06 377.4v-1.6M291.06 218v1.6M293.13 377.4v-1.6M293.13 218v1.6M294.92 377.4v-1.6M294.92 218v1.6M296.5 377.4v-1.6M296.5 218v1.6M297.92 377.4v-2M297.92 218v2M307.22 377.4v-1.6M307.22 218v1.6M312.67 377.4v-1.6M312.67 218v1.6M316.53 377.4v-1.6M316.53 218v1.6M319.53 377.4v-1.6M319.53 218v1.6M321.97 377.4v-1.6M321.97 218v1.6M324.04 377.4v-1.6M324.04 218v1.6M325.84 377.4v-1.6M325.84 218v1.6M327.42 377.4v-1.6M327.42 218v1.6M328.83 377.4v-2M328.83 218v2M338.14 377.4v-1.6M338.14 218v1.6M343.58 377.4v-1.6M343.58 218v1.6M347.45 377.4v-1.6M347.45 218v1.6M350.44 377.4v-1.6M350.44 218v1.6M352.89 377.4v-1.6M352.89 218v1.6M354.96 377.4v-1.6M354.96 218v1.6M356.75 377.4v-1.6M356.75 218v1.6M358.34 377.4v-1.6M358.34 218v1.6M359.75 377.4v-2M359.75 218v2M369.06 377.4v-1.6M369.06 218v1.6M374.5 377.4v-1.6M374.5 218v1.6M378.36 377.4v-1.6M378.36 218v1.6M381.36 377.4v-1.6M381.36 218v1.6M383.81 377.4v-1.6M383.81 218v1.6M385.88 377.4v-1.6M385.88 218v1.6M387.67 377.4v-1.6M387.67 218v1.6M389.25 377.4v-1.6M389.25 218v1.6M390.67 377.4v-2M390.67 218v2M399.97 377.4v-1.6M399.97 218v1.6M405.42 377.4v-1.6M405.42 218v1.6M409.28 377.4v-1.6M409.28 218v1.6M412.28 377.4v-1.6M412.28 218v1.6M414.72 377.4v-1.6M414.72 218v1.6M416.79 377.4v-1.6M416.79 218v1.6M418.59 377.4v-1.6M418.59 218v1.6M420.17 377.4v-1.6M420.17 218v1.6M421.58 377.4v-2M421.58 218v2M430.89 377.4v-1.6M430.89 218v1.6M436.33 377.4v-1.6M436.33 218v1.6M440.2 377.4v-1.6M440.2 218v1.6M443.19 377.4v-1.6M443.19 218v1.6M445.64 377.4v-1.6M445.64 218v1.6M447.71 377.4v-1.6M447.71 218v1.6M449.5 377.4v-1.6M449.5 218v1.6M451.09 377.4v-1.6M451.09 218v1.6M267 354.5h2M452.5 354.5h-2M267 297.45h2M452.5 297.45h-2M267 240.4h2M452.5 240.4h-2" stroke="#262626" stroke-width="0.78" fill="none"/>
<rect x="267" y="218" width="185.5" height="159.4" fill="none" stroke="#262626" stroke-width="0.78"/>
<text transform="translate(267 396.15) scale(1 1.05)" text-anchor="middle" class="tl">10<tspan class="sup" dy="-5.4">-1</tspan></text>
<text transform="translate(297.92 396.15) scale(1 1.05)" text-anchor="middle" class="tl">10<tspan class="sup" dy="-5.4">0</tspan></text>
<text transform="translate(328.83 396.15) scale(1 1.05)" text-anchor="middle" class="tl">10<tspan class="sup" dy="-5.4">1</tspan></text>
<text transform="translate(359.75 396.15) scale(1 1.05)" text-anchor="middle" class="tl">10<tspan class="sup" dy="-5.4">2</tspan></text>
<text transform="translate(390.67 396.15) scale(1 1.05)" text-anchor="middle" class="tl">10<tspan class="sup" dy="-5.4">3</tspan></text>
<text transform="translate(421.58 396.15) scale(1 1.05)" text-anchor="middle" class="tl">10<tspan class="sup" dy="-5.4">4</tspan></text>
<text transform="translate(452.5 396.15) scale(1 1.05)" text-anchor="middle" class="tl">10<tspan class="sup" dy="-5.4">5</tspan></text>
<text transform="translate(263 358.9) scale(1 1.05)" text-anchor="end" class="tl">0</text>
<text transform="translate(263 301.85) scale(1 1.05)" text-anchor="end" class="tl">0.5</text>
<text transform="translate(263 244.8) scale(1 1.05)" text-anchor="end" class="tl">1</text>
<text transform="translate(359.75 411.5) scale(1 1.0)" text-anchor="middle" class="xl">PhoP (nM)</text>
<text transform="translate(248.25 214.5) scale(1 1.0)" class="pl">E</text>
<text transform="translate(276 242.5) scale(1 1.02)" class="kd">K</text>
<text transform="translate(286 249.5) scale(1 1.02)" class="sub">D</text>
<text transform="translate(299.1 242.5) scale(1 1.02)" class="kd">= 3580 ± 121 nM</text>
<polyline points="294.6,354.48 295.76,354.48 296.91,354.47 298.07,354.47 299.23,354.47 300.38,354.47 301.54,354.46 302.7,354.46 303.85,354.46 305.01,354.45 306.17,354.45 307.32,354.44 308.48,354.44 309.64,354.43 310.79,354.43 311.95,354.42 313.11,354.41 314.26,354.4 315.42,354.39 316.58,354.38 317.73,354.37 318.89,354.36 320.05,354.35 321.2,354.33 322.36,354.32 323.52,354.3 324.67,354.28 325.83,354.26 326.99,354.24 328.14,354.22 329.3,354.19 330.46,354.16 331.61,354.13 332.77,354.09 333.93,354.05 335.08,354.01 336.24,353.96 337.4,353.91 338.55,353.86 339.71,353.8 340.87,353.73 342.02,353.66 343.18,353.58 344.34,353.49 345.49,353.4 346.65,353.29 347.81,353.18 348.96,353.05 350.12,352.92 351.28,352.77 352.43,352.61 353.59,352.43 354.75,352.24 355.9,352.02 357.06,351.79 358.22,351.54 359.37,351.27 360.53,350.97 361.69,350.65 362.84,350.29 364,349.91 365.16,349.49 366.31,349.04 367.47,348.54 368.63,348.01 369.78,347.43 370.94,346.8 372.1,346.12 373.25,345.39 374.41,344.6 375.57,343.75 376.72,342.83 377.88,341.84 379.04,340.78 380.19,339.65 381.35,338.44 382.51,337.15 383.66,335.77 384.82,334.31 385.98,332.76 387.13,331.12 388.29,329.39 389.45,327.58 390.6,325.68 391.76,323.69 392.92,321.62 394.07,319.47 395.23,317.24 396.39,314.95 397.54,312.6 398.7,310.2 399.86,307.74 401.01,305.26 402.17,302.74 403.33,300.21 404.48,297.68 405.64,295.15 406.8,292.63 407.95,290.14 409.11,287.69 410.27,285.28 411.42,282.92 412.58,280.62 413.74,278.39 414.89,276.23 416.05,274.15 417.21,272.16 418.36,270.24 419.52,268.42 420.68,266.68 421.83,265.04 422.99,263.48 424.15,262.01 425.3,260.62 426.46,259.32 427.62,258.1 428.77,256.96 429.93,255.89 431.09,254.9 432.24,253.97 433.4,253.11" fill="none" stroke="#000" stroke-width="1.5" stroke-linejoin="round"/>
<path d="M294.2 357.2V359.8M289.9 357.2h8.6M289.9 359.8h8.6M303.49 352.4V354.4M299.19 352.4h8.6M299.19 354.4h8.6M312.78 355.6V358M308.48 355.6h8.6M308.48 358h8.6M322.07 355.8V357.8M317.77 355.8h8.6M317.77 357.8h8.6M331.36 357.2V359M327.06 357.2h8.6M327.06 359h8.6M340.65 355.3V361.5M336.35 355.3h8.6M336.35 361.5h8.6M349.94 349.4V355M345.64 349.4h8.6M345.64 355h8.6M359.23 352.6V354.6M354.93 352.6h8.6M354.93 354.6h8.6M368.52 339.6V342.2M364.22 339.6h8.6M364.22 342.2h8.6M377.81 325.7V338.9M373.51 325.7h8.6M373.51 338.9h8.6M387.1 323.8V331.3M382.8 323.8h8.6M382.8 331.3h8.6M396.39 322V324.6M392.09 322h8.6M392.09 324.6h8.6M405.68 303.6V306M401.38 303.6h8.6M401.38 306h8.6M414.97 274V281.7M410.67 274h8.6M410.67 281.7h8.6M424.26 254.3V263.7M419.96 254.3h8.6M419.96 263.7h8.6M433.55 254.3V256.3M429.25 254.3h8.6M429.25 256.3h8.6" stroke="#000" stroke-width="0.9" fill="none"/>
<g fill="#000"><circle cx="294.2" cy="358.5" r="2.2"/><circle cx="303.49" cy="353.4" r="2.2"/><circle cx="312.78" cy="356.8" r="2.2"/><circle cx="322.07" cy="356.8" r="2.2"/><circle cx="331.36" cy="358.1" r="2.2"/><circle cx="340.65" cy="358.6" r="2.2"/><circle cx="349.94" cy="352.2" r="2.2"/><circle cx="359.23" cy="353.6" r="2.2"/><circle cx="368.52" cy="340.9" r="2.2"/><circle cx="377.81" cy="332.2" r="2.2"/><circle cx="387.1" cy="327.6" r="2.2"/><circle cx="396.39" cy="323.3" r="2.2"/><circle cx="405.68" cy="304.8" r="2.2"/><circle cx="414.97" cy="278.1" r="2.2"/><circle cx="424.26" cy="259.1" r="2.2"/><circle cx="433.55" cy="255.3" r="2.2"/></g>
<path d="M498.78 377.4v-1.6M498.78 218v1.6M504.21 377.4v-1.6M504.21 218v1.6M508.06 377.4v-1.6M508.06 218v1.6M511.05 377.4v-1.6M511.05 218v1.6M513.49 377.4v-1.6M513.49 218v1.6M515.56 377.4v-1.6M515.56 218v1.6M517.35 377.4v-1.6M517.35 218v1.6M518.92 377.4v-1.6M518.92 218v1.6M520.33 377.4v-2M520.33 218v2M529.62 377.4v-1.6M529.62 218v1.6M535.04 377.4v-1.6M535.04 218v1.6M538.9 377.4v-1.6M538.9 218v1.6M541.88 377.4v-1.6M541.88 218v1.6M544.33 377.4v-1.6M544.33 218v1.6M546.39 377.4v-1.6M546.39 218v1.6M548.18 377.4v-1.6M548.18 218v1.6M549.76 377.4v-1.6M549.76 218v1.6M551.17 377.4v-2M551.17 218v2M560.45 377.4v-1.6M560.45 218v1.6M565.88 377.4v-1.6M565.88 218v1.6M569.73 377.4v-1.6M569.73 218v1.6M572.72 377.4v-1.6M572.72 218v1.6M575.16 377.4v-1.6M575.16 218v1.6M577.22 377.4v-1.6M577.22 218v1.6M579.01 377.4v-1.6M579.01 218v1.6M580.59 377.4v-1.6M580.59 218v1.6M582 377.4v-2M582 218v2M591.28 377.4v-1.6M591.28 218v1.6M596.71 377.4v-1.6M596.71 218v1.6M600.56 377.4v-1.6M600.56 218v1.6M603.55 377.4v-1.6M603.55 218v1.6M605.99 377.4v-1.6M605.99 218v1.6M608.06 377.4v-1.6M608.06 218v1.6M609.85 377.4v-1.6M609.85 218v1.6M611.42 377.4v-1.6M611.42 218v1.6M612.83 377.4v-2M612.83 218v2M622.12 377.4v-1.6M622.12 218v1.6M627.54 377.4v-1.6M627.54 218v1.6M631.4 377.4v-1.6M631.4 218v1.6M634.38 377.4v-1.6M634.38 218v1.6M636.83 377.4v-1.6M636.83 218v1.6M638.89 377.4v-1.6M638.89 218v1.6M640.68 377.4v-1.6M640.68 218v1.6M642.26 377.4v-1.6M642.26 218v1.6M643.67 377.4v-2M643.67 218v2M652.95 377.4v-1.6M652.95 218v1.6M658.38 377.4v-1.6M658.38 218v1.6M662.23 377.4v-1.6M662.23 218v1.6M665.22 377.4v-1.6M665.22 218v1.6M667.66 377.4v-1.6M667.66 218v1.6M669.72 377.4v-1.6M669.72 218v1.6M671.51 377.4v-1.6M671.51 218v1.6M673.09 377.4v-1.6M673.09 218v1.6M489.5 354.5h2M674.5 354.5h-2M489.5 297.45h2M674.5 297.45h-2M489.5 240.4h2M674.5 240.4h-2" stroke="#262626" stroke-width="0.78" fill="none"/>
<rect x="489.5" y="218" width="185" height="159.4" fill="none" stroke="#262626" stroke-width="0.78"/>
<text transform="translate(489.5 396.15) scale(1 1.05)" text-anchor="middle" class="tl">10<tspan class="sup" dy="-5.4">-1</tspan></text>
<text transform="translate(520.33 396.15) scale(1 1.05)" text-anchor="middle" class="tl">10<tspan class="sup" dy="-5.4">0</tspan></text>
<text transform="translate(551.17 396.15) scale(1 1.05)" text-anchor="middle" class="tl">10<tspan class="sup" dy="-5.4">1</tspan></text>
<text transform="translate(582 396.15) scale(1 1.05)" text-anchor="middle" class="tl">10<tspan class="sup" dy="-5.4">2</tspan></text>
<text transform="translate(612.83 396.15) scale(1 1.05)" text-anchor="middle" class="tl">10<tspan class="sup" dy="-5.4">3</tspan></text>
<text transform="translate(643.67 396.15) scale(1 1.05)" text-anchor="middle" class="tl">10<tspan class="sup" dy="-5.4">4</tspan></text>
<text transform="translate(674.5 396.15) scale(1 1.05)" text-anchor="middle" class="tl">10<tspan class="sup" dy="-5.4">5</tspan></text>
<text transform="translate(485.5 358.9) scale(1 1.05)" text-anchor="end" class="tl">0</text>
<text transform="translate(485.5 301.85) scale(1 1.05)" text-anchor="end" class="tl">0.5</text>
<text transform="translate(485.5 244.8) scale(1 1.05)" text-anchor="end" class="tl">1</text>
<text transform="translate(582 411.5) scale(1 1.0)" text-anchor="middle" class="xl">TcrA (nM)</text>
<text transform="translate(470.75 214.5) scale(1 1.0)" class="pl">F</text>
<text transform="translate(498.5 242.5) scale(1 1.02)" class="kd">K</text>
<text transform="translate(508.5 249.5) scale(1 1.02)" class="sub">D</text>
<text transform="translate(521.6 242.5) scale(1 1.02)" class="kd">= 3071 ± 74 nM</text>
<polyline points="504.1,353.8 505.26,353.8 506.42,353.8 507.59,353.8 508.75,353.8 509.91,353.8 511.07,353.79 512.23,353.79 513.39,353.79 514.56,353.79 515.72,353.78 516.88,353.78 518.04,353.78 519.2,353.78 520.36,353.77 521.52,353.77 522.69,353.76 523.85,353.76 525.01,353.75 526.17,353.75 527.33,353.74 528.5,353.73 529.66,353.73 530.82,353.72 531.98,353.71 533.14,353.7 534.3,353.69 535.47,353.68 536.63,353.67 537.79,353.65 538.95,353.64 540.11,353.62 541.27,353.61 542.44,353.59 543.6,353.57 544.76,353.54 545.92,353.52 547.08,353.49 548.24,353.47 549.4,353.43 550.57,353.4 551.73,353.36 552.89,353.32 554.05,353.28 555.21,353.23 556.38,353.18 557.54,353.12 558.7,353.06 559.86,352.99 561.02,352.92 562.18,352.84 563.35,352.75 564.51,352.66 565.67,352.55 566.83,352.44 567.99,352.32 569.15,352.19 570.32,352.04 571.48,351.89 572.64,351.72 573.8,351.53 574.96,351.33 576.12,351.11 577.28,350.88 578.45,350.62 579.61,350.34 580.77,350.04 581.93,349.71 583.09,349.36 584.25,348.98 585.42,348.56 586.58,348.11 587.74,347.63 588.9,347.1 590.06,346.54 591.23,345.93 592.39,345.27 593.55,344.57 594.71,343.81 595.87,342.99 597.03,342.12 598.2,341.18 599.36,340.18 600.52,339.11 601.68,337.97 602.84,336.75 604,335.46 605.16,334.09 606.33,332.63 607.49,331.1 608.65,329.48 609.81,327.78 610.97,325.99 612.13,324.12 613.3,322.17 614.46,320.14 615.62,318.03 616.78,315.85 617.94,313.6 619.11,311.29 620.27,308.92 621.43,306.5 622.59,304.04 623.75,301.54 624.91,299.02 626.08,296.48 627.24,293.93 628.4,291.39 629.56,288.86 630.72,286.35 631.88,283.87 633.05,281.42 634.21,279.02 635.37,276.68 636.53,274.39 637.69,272.17 638.85,270.02 640.01,267.95 641.18,265.95 642.34,264.04 643.5,262.2" fill="none" stroke="#000" stroke-width="1.5" stroke-linejoin="round"/>
<path d="M504.1 352.1V361.3M499.8 352.1h8.6M499.8 361.3h8.6M541.26 350.1V362M536.96 350.1h8.6M536.96 362h8.6M550.55 347.2V351.2M546.25 347.2h8.6M546.25 351.2h8.6M559.84 339.6V343.3M555.54 339.6h8.6M555.54 343.3h8.6M578.42 345.9V349.4M574.12 345.9h8.6M574.12 349.4h8.6M587.71 334.4V337.9M583.41 334.4h8.6M583.41 337.9h8.6M597 341V345.1M592.7 341h8.6M592.7 345.1h8.6M606.29 326.1V329.6M601.99 326.1h8.6M601.99 329.6h8.6M615.58 316.7V328.1M611.28 316.7h8.6M611.28 328.1h8.6M624.87 289.2V296.5M620.57 289.2h8.6M620.57 296.5h8.6M634.16 267.5V289.4M629.86 267.5h8.6M629.86 289.4h8.6M643.45 259.3V264.8M639.15 259.3h8.6M639.15 264.8h8.6" stroke="#000" stroke-width="0.9" fill="none"/>
<g fill="#000"><circle cx="504.1" cy="356.4" r="2.2"/><circle cx="541.26" cy="355.9" r="2.2"/><circle cx="550.55" cy="348.9" r="2.2"/><circle cx="559.84" cy="341.4" r="2.2"/><circle cx="578.42" cy="347.7" r="2.2"/><circle cx="587.71" cy="336.1" r="2.2"/><circle cx="597" cy="342.8" r="2.2"/><circle cx="606.29" cy="327.9" r="2.2"/><circle cx="615.58" cy="322.7" r="2.2"/><circle cx="624.87" cy="292.6" r="2.2"/><circle cx="634.16" cy="278.5" r="2.2"/><circle cx="643.45" cy="262.2" r="2.2"/></g>
<text transform="translate(13.6 196.6) scale(1 1.02) rotate(-90)" text-anchor="middle" textLength="192.06" lengthAdjust="spacing" class="yl">Normalized fluorescence</text>
</svg></body></html>
